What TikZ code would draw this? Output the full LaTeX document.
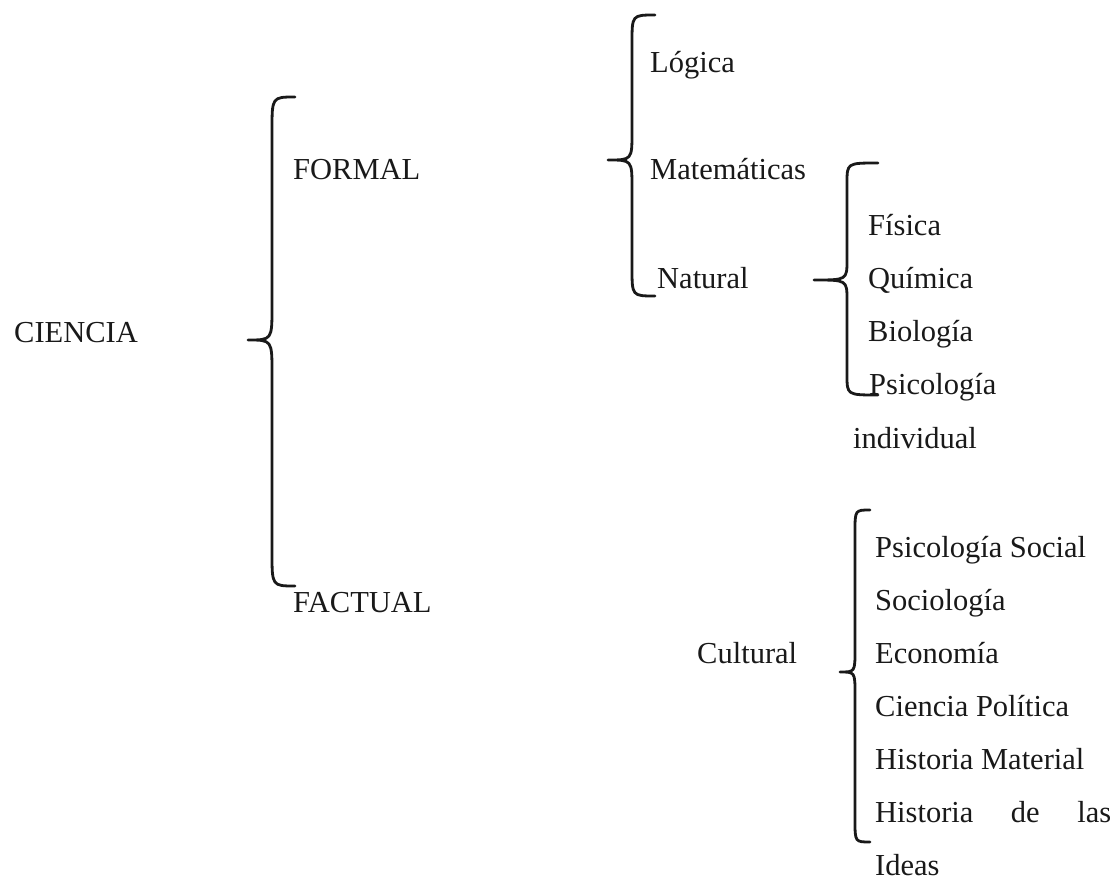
\documentclass[tikz,border=0pt]{standalone}
\usepackage{fontspec}
\setmainfont{Liberation Serif}
\tikzset{
  lbl/.style={anchor=base west, inner sep=0pt, text=black!90, font=\fontsize{30.5}{36}\selectfont},
  bracepath/.style={line width=2.8pt, line cap=round, line join=round, draw=black!90}
}
% #1 end x, #2 vertical x, #3 tip x, #4 top y, #5 tip y, #6 bottom y, #7 curl height
\newcommand\curlybr[7]{%
  \draw[bracepath] (#1,#4) .. controls (#2,#4) .. (#2,#4+#7) -- (#2,#5-#7)
    .. controls (#2,#5) .. (#3,#5) .. controls (#2,#5) .. (#2,#5+#7)
    -- (#2,#6-#7) .. controls (#2,#6) .. (#1,#6);}
\begin{document}
\begin{tikzpicture}[x=1pt,y=-1pt]
\useasboundingbox (0,0) rectangle (1117,880);
% braces
\curlybr{295}{272}{248}{97}{340}{586}{33}
\curlybr{655}{632}{608}{15}{160}{296}{28}
\curlybr{878}{847}{814}{163}{280}{395}{20}
\curlybr{870}{855}{840}{510}{672}{842}{22}
% texts
\node[lbl] (ciencia) at (14,342) {CIENCIA};
\node[lbl] (formal) at (293,180) {FORMAL};
\node[lbl] (factual) at (293,612) {FACTUAL};
\node[lbl] (logica) at (650,73) {Lógica};
\node[lbl] (matem) at (650,180) {Matemáticas};
\node[lbl] (natural) at (657,288) {Natural};
\node[lbl] (fisica) at (868,235) {Física};
\node[lbl] (quimica) at (868,288) {Química};
\node[lbl] (biologia) at (868,341) {Biología};
\node[lbl] (psico) at (869,394) {Psicología};
\node[lbl] (indiv) at (853,448) {individual};
\node[lbl] (cultural) at (697,663) {Cultural};
\node[lbl] (psocial) at (875,557) {Psicología Social};
\node[lbl] (socio) at (875,610) {Sociología};
\node[lbl] (econ) at (875,663) {Economía};
\node[lbl] (cpol) at (875,716) {Ciencia Política};
\node[lbl] (hmat) at (875,769) {Historia Material};
\node[lbl] (hideas) at (875,822) {\hbox to 236pt{Historia\hfill de\hfill las}};
\node[lbl] (ideas) at (875,875) {Ideas};
\end{tikzpicture}
\end{document}
